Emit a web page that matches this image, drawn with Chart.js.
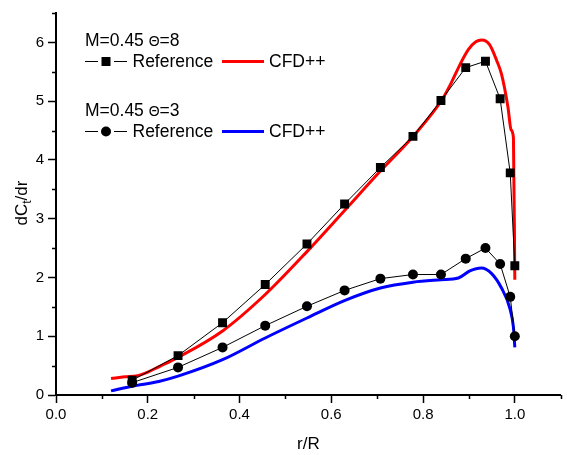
<!DOCTYPE html>
<html>
<head>
<meta charset="utf-8">
<title>dCt/dr vs r/R</title>
<script src="https://cdn.jsdelivr.net/npm/chart.js@4.4.1/dist/chart.umd.min.js"></script>
<style>
  html, body { margin: 0; padding: 0; background: #fff; }
  canvas { display: block; }
</style>
</head>
<body>
<canvas id="loads" width="567" height="455"></canvas>
<script>
// blade stations of the reference measurements
const rRef = [0.166, 0.266, 0.363, 0.456, 0.547, 0.629, 0.707, 0.778, 0.839, 0.893, 0.936, 0.968, 0.99, 1.0];
const refTheta8 = [0.25, 0.67, 1.23, 1.88, 2.57, 3.25, 3.87, 4.40, 5.01, 5.57, 5.68, 5.04, 3.78, 2.20];
const refTheta3 = [0.21, 0.47, 0.81, 1.18, 1.51, 1.78, 1.98, 2.05, 2.05, 2.32, 2.50, 2.23, 1.67, 1.00];

// CFD++ distributions
const rCfd8 = [0.12, 0.15, 0.178, 0.2, 0.224, 0.266, 0.363, 0.456, 0.547, 0.629, 0.707, 0.778, 0.841, 0.862, 0.881, 0.899, 0.915, 0.928, 0.945, 0.96, 0.971, 0.985, 0.992, 0.997, 1.0];
const cfdTheta8 = [0.28, 0.31, 0.33, 0.39, 0.48, 0.64, 1.09, 1.71, 2.44, 3.14, 3.81, 4.40, 5.02, 5.32, 5.63, 5.88, 6.01, 6.04, 5.96, 5.70, 5.46, 4.90, 4.51, 4.37, 1.96];
const rCfd3 = [0.12, 0.166, 0.224, 0.266, 0.363, 0.456, 0.547, 0.63, 0.707, 0.778, 0.839, 0.877, 0.902, 0.927, 0.949, 0.971, 0.989, 0.997, 1.0];
const cfdTheta3 = [0.07, 0.15, 0.23, 0.32, 0.60, 0.97, 1.31, 1.61, 1.82, 1.92, 1.96, 1.99, 2.11, 2.16, 2.07, 1.82, 1.48, 1.15, 0.81];

const xMinorTicks = [0.1, 0.3, 0.5, 0.7, 0.9, 1.1];
const yMinorTicks = [0.5, 1.5, 2.5, 3.5, 4.5, 5.5, 6.5];

const FONT = '"Liberation Sans", Arial, sans-serif';

function pairs(xs, ys) {
    return xs.map((x, i) => ({x: x, y: ys[i]}));
}

// text pieces of different sizes on one baseline
function drawRuns(ctx, x, y, runs) {
    ctx.textBaseline = 'alphabetic';
    ctx.textAlign = 'left';
    runs.forEach(run => {
        ctx.font = run.size + 'px ' + FONT;
        ctx.fillText(run.text, x, y + (run.dy || 0));
        x += ctx.measureText(run.text).width;
    });
}

const extras = {
    id: 'extras',
    afterDraw(chart) {
        const ctx = chart.ctx;
        const xs = chart.scales.x, ys = chart.scales.y;
        const area = chart.chartArea;
        ctx.save();
        ctx.strokeStyle = '#000';
        ctx.fillStyle = '#000';

        // minor ticks
        ctx.lineWidth = 1.5;
        ctx.beginPath();
        xMinorTicks.forEach(v => {
            const px = Math.round(xs.getPixelForValue(v)) + 0.5;
            ctx.moveTo(px, area.bottom);
            ctx.lineTo(px, area.bottom + 4);
        });
        yMinorTicks.forEach(v => {
            const py = Math.round(ys.getPixelForValue(v)) + 0.5;
            ctx.moveTo(area.left, py);
            ctx.lineTo(area.left - 4, py);
        });
        ctx.stroke();

        // y axis title with subscript
        ctx.save();
        ctx.translate(27, 203);
        ctx.rotate(-Math.PI / 2);
        const parts = [{text: 'dC', size: 17}, {text: 't', size: 12, dy: 4}, {text: '/dr', size: 17}];
        let w = 0;
        parts.forEach(p => { ctx.font = p.size + 'px ' + FONT; w += ctx.measureText(p.text).width; });
        drawRuns(ctx, -w / 2, 0, parts);
        ctx.restore();

        // legend blocks
        const blocks = [
            {title: '8', y: 40, row: 61.5, marker: 'rect', color: '#ff0000'},
            {title: '3', y: 110, row: 131.5, marker: 'circle', color: '#0000ff'}
        ];
        blocks.forEach(b => {
            drawRuns(ctx, 85, b.y + 6, [
                {text: 'M=0.45 ', size: 17.5},
                {text: 'Θ', size: 14},
                {text: '=' + b.title, size: 17.5}
            ]);
            ctx.lineWidth = 1;
            ctx.beginPath();
            ctx.moveTo(85, b.row); ctx.lineTo(98, b.row);
            ctx.moveTo(114, b.row); ctx.lineTo(127, b.row);
            ctx.stroke();
            ctx.beginPath();
            if (b.marker === 'rect') {
                ctx.rect(101.5, b.row - 4.5, 9, 9);
            } else {
                ctx.arc(106, b.row, 5, 0, Math.PI * 2);
            }
            ctx.fill();
            ctx.font = '17.5px ' + FONT;
            ctx.textBaseline = 'middle';
            ctx.fillText('Reference', 132.5, b.row + 1);
            ctx.strokeStyle = b.color;
            ctx.lineWidth = 3;
            ctx.beginPath();
            ctx.moveTo(222, b.row); ctx.lineTo(264, b.row);
            ctx.stroke();
            ctx.strokeStyle = '#000';
            ctx.fillText('CFD++', 269, b.row + 1);
        });
        ctx.restore();
    }
};

const refStyle = {
    showLine: true,
    borderColor: '#000',
    borderWidth: 1,
    backgroundColor: '#000',
    pointBorderWidth: 0,
    pointHoverRadius: 0
};
const cfdStyle = {
    showLine: true,
    borderWidth: 3,
    pointRadius: 0,
    cubicInterpolationMode: 'monotone'
};

const ctx = document.getElementById('loads');
const chart = new Chart(ctx, {
    type: 'scatter',
    data: {
        datasets: [
            Object.assign({label: 'Reference Θ=8', data: pairs(rRef, refTheta8), pointStyle: 'rect', pointRadius: 6.3}, refStyle),
            Object.assign({label: 'Reference Θ=3', data: pairs(rRef, refTheta3), pointStyle: 'circle', pointRadius: 5}, refStyle),
            Object.assign({label: 'CFD++ Θ=8', data: pairs(rCfd8, cfdTheta8), borderColor: '#ff0000'}, cfdStyle),
            Object.assign({label: 'CFD++ Θ=3', data: pairs(rCfd3, cfdTheta3), borderColor: '#0000ff'}, cfdStyle)
        ]
    },
    options: {
        responsive: false,
        animation: false,
        layout: { padding: { top: 8, right: 2, left: 0, bottom: 0 } },
        plugins: {
            legend: { display: false },
            tooltip: { enabled: false }
        },
        scales: {
            x: {
                type: 'linear',
                min: 0,
                max: 1.1,
                afterFit: s => { s.height = 60; },
                grid: { drawOnChartArea: false, tickLength: 8, tickColor: '#000', tickWidth: 1.5 },
                border: { color: '#000', width: 2 },
                ticks: {
                    stepSize: 0.2,
                    includeBounds: false,
                    autoSkip: false,
                    maxRotation: 0,
                    padding: 3,
                    color: '#000',
                    font: { family: FONT, size: 15 },
                    callback: v => v.toFixed(1)
                },
                title: {
                    display: true,
                    text: 'r/R',
                    color: '#000',
                    padding: { top: 0, bottom: 0 },
                    font: { family: FONT, size: 17 }
                }
            },
            y: {
                type: 'linear',
                min: 0,
                max: 6.5,
                afterFit: s => { s.width = 56; },
                grid: { drawOnChartArea: false, tickLength: 8, tickColor: '#000', tickWidth: 1.5 },
                border: { color: '#000', width: 2 },
                ticks: {
                    stepSize: 1,
                    includeBounds: false,
                    padding: 4,
                    color: '#000',
                    font: { family: FONT, size: 15 },
                    callback: v => String(v)
                }
            }
        }
    },
    plugins: [extras]
});
</script>
</body>
</html>
